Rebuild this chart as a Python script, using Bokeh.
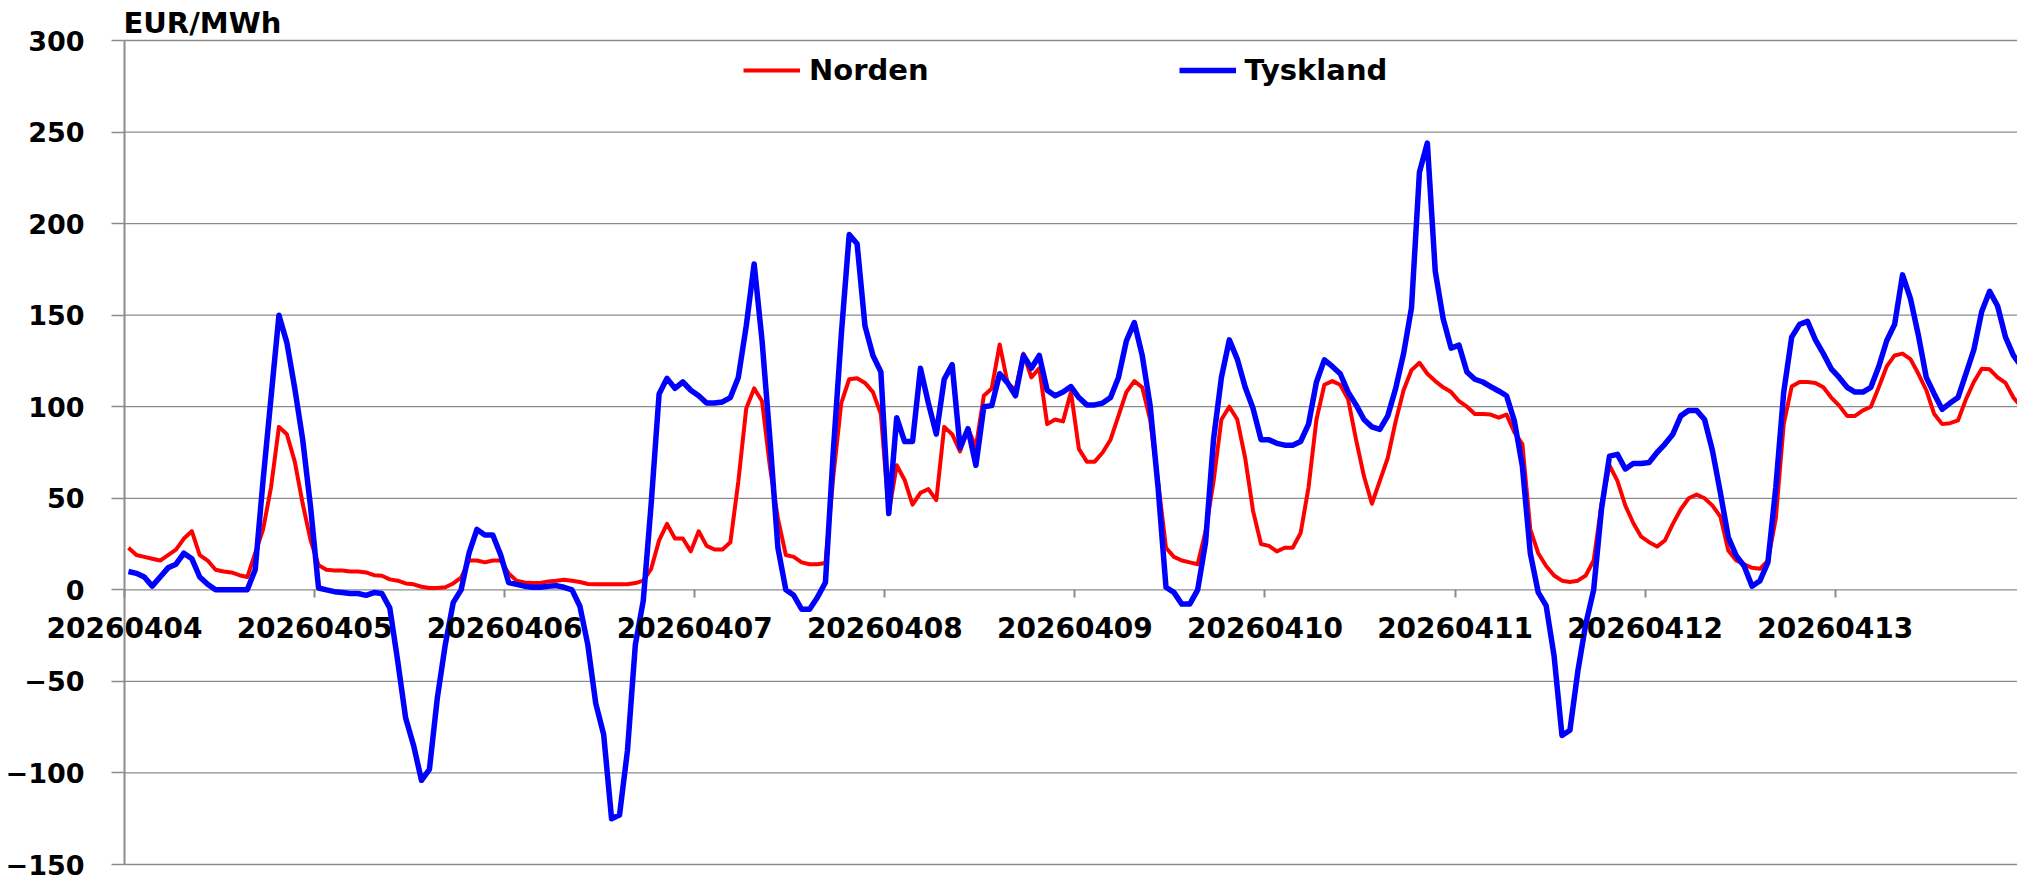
from bokeh.plotting import figure
from bokeh.models import FixedTicker, Range1d, Legend, LegendItem, ColumnDataSource, Label
from bokeh.embed import file_html
from bokeh.resources import INLINE

# ---- data (hourly prices, EUR/MWh) ----
dates = ["20260404", "20260405", "20260406", "20260407", "20260408",
         "20260409", "20260410", "20260411", "20260412", "20260413"]
hours_per_day = 24

norden_0404 = [23, 19, 18, 17, 16, 19, 22, 28, 32, 19, 16, 11, 10, 9.5, 8, 7, 20, 33, 56, 89, 85, 70, 47, 27]
norden_0405 = [13.5, 11, 10.6, 10.6, 10, 10, 9.5, 8, 7.7, 5.7, 5, 3.5, 3, 1.7, 1, 1, 1.4, 3.5, 6.6, 16, 16, 15, 16, 16]
norden_0406 = [9, 5, 4, 3.7, 3.7, 4.6, 5, 5.5, 5, 4.3, 3.2, 3, 3, 3, 3, 3, 3.7, 5, 11.5, 27, 36, 28, 28, 21]
norden_0407 = [32, 24, 22, 22, 26, 59, 99, 110, 103, 67, 39, 19, 18, 15, 14, 14, 14.6, 62, 102, 115, 115.5, 113, 108, 96]
norden_0408 = [42, 68, 60, 46.5, 53, 55, 49, 89, 85, 75.6, 88, 78, 106, 110, 134, 113, 109, 129, 116, 121, 90.5, 93, 92, 108]
norden_0409 = [77, 70, 70, 75, 82, 95, 108, 114, 110.6, 93, 59, 23, 18, 16, 15, 14, 32, 59, 93, 100, 93, 72, 43, 25]
norden_0410 = [24, 21, 23, 23, 31, 56, 93, 112, 114, 112, 104, 82, 62, 47, 59.5, 72, 92, 109, 120, 124, 118, 114, 110.6, 108]
norden_0411 = [103, 100, 96, 96, 95.7, 94, 95.7, 86, 79.6, 33, 20, 13, 7.8, 5, 4.3, 5, 7.8, 16, 47, 68, 59.5, 46, 36.5, 29]
norden_0412 = [26, 23.6, 27, 36, 44, 50, 52, 50, 46, 40, 21.5, 16, 14, 12, 11.5, 16, 39, 90.5, 111, 113.5, 113.5, 113, 110.6, 105]
norden_0413 = [100.6, 95, 95, 98, 100, 110.6, 122, 128, 129, 126, 118, 109, 96, 90.5, 91, 92.5, 104, 113.5, 120.7, 120.4, 116, 113, 105, 100]

tyskland_0404 = [10, 9, 7, 2, 7, 12, 14, 20, 17, 7, 3, 0, 0, 0, 0, 0, 11, 60, 105, 150, 135, 110, 82, 45]
tyskland_0405 = [1, 0, -1, -1.5, -2, -2, -3, -1.5, -2, -10, -39, -70, -85, -104, -98, -59, -30, -7, 0, 20, 33, 30, 30, 19]
tyskland_0406 = [4, 3, 2, 1.4, 1.4, 2, 2.3, 1.4, 0, -9, -30, -62, -79, -125, -123, -88, -30, -6, 47, 107, 115.5, 110, 113.5, 109]
tyskland_0407 = [106, 102, 102, 102.6, 105, 116, 144, 178, 136, 82, 23, 0, -3, -10.6, -10.6, -4, 4, 76, 139, 194, 189, 144, 128, 119]
tyskland_0408 = [41.7, 94, 81, 81, 121, 102, 85, 115, 123, 77.6, 88, 68, 100, 100.6, 118, 113, 106, 128, 121, 128, 109, 106, 108, 111]
tyskland_0409 = [105, 101, 101, 102, 105, 116, 136, 146, 128, 100.6, 56, 1.4, -1.4, -7.8, -7.8, 0, 26, 82, 116, 136.5, 126, 110.6, 99, 82]
tyskland_0410 = [82, 80, 79, 79, 81, 90.5, 113.5, 125.6, 122, 118, 108, 101, 93, 89, 87.6, 95, 110, 129, 154, 228, 244, 174, 148, 132]
tyskland_0411 = [133.6, 119, 115, 113.5, 111, 108.6, 106, 92, 67.5, 20, -1.4, -8.6, -36, -79.6, -76.7, -44.5, -18.7, 0, 44.5, 73, 74, 66, 69, 69]
tyskland_0412 = [69.5, 75, 79.6, 85, 95, 98, 98, 93, 76, 53, 28.7, 18.7, 13, 2, 5, 15, 56, 108, 138, 145, 146.6, 136.5, 129, 120.7]
tyskland_0413 = [116, 110.6, 108, 108, 110.6, 122, 136, 145, 172, 159, 139, 116, 107, 98.6, 102, 105, 118, 131, 152, 163, 155, 138, 128, 122]

y_ticks = [-150, -100, -50, 0, 50, 100, 150, 200, 250, 300]
unit_label = "EUR/MWh"
series_names = ["Norden", "Tyskland"]

# ---- build table ----
norden = (norden_0404 + norden_0405 + norden_0406 + norden_0407 + norden_0408 +
          norden_0409 + norden_0410 + norden_0411 + norden_0412 + norden_0413)
tyskland = (tyskland_0404 + tyskland_0405 + tyskland_0406 + tyskland_0407 + tyskland_0408 +
            tyskland_0409 + tyskland_0410 + tyskland_0411 + tyskland_0412 + tyskland_0413)
xpos = [i + 0.5 for i in range(len(norden))]
src = ColumnDataSource(dict(x=xpos, norden=norden, tyskland=tyskland))

FONT = "DejaVu Sans"
GRID = "#8c8c8c"

# canvas geometry (the frame fills the whole canvas)
W, H = 2017, 881
AXIS_PX = 124            # x = 0 position from the left
PX_PER_HOUR = 7.92
TOP_PX, BOTTOM_PX = 40, 864   # screen rows of 300 and -150
x_start = -AXIS_PX / PX_PER_HOUR
x_end = (W - AXIS_PX) / PX_PER_HOUR
ppu = (BOTTOM_PX - TOP_PX) / (y_ticks[-1] - y_ticks[0])
y_hi = y_ticks[-1] + TOP_PX / ppu
y_lo = y_ticks[0] - (H - BOTTOM_PX) / ppu

p = figure(width=W, height=H, output_backend="svg", toolbar_location=None,
           x_range=Range1d(x_start, x_end), y_range=Range1d(y_lo, y_hi),
           min_border_left=0, min_border_right=0, min_border_top=0, min_border_bottom=0)
p.outline_line_color = None
p.background_fill_color = "white"
p.border_fill_color = "white"

# horizontal gridlines from the tick values
p.xgrid.grid_line_color = None
p.ygrid.grid_line_color = None
p.segment(x0=[0] * len(y_ticks), y0=y_ticks, x1=[x_end] * len(y_ticks), y1=y_ticks,
          line_color=GRID, line_width=1.3)

# y axis at x = 0
p.yaxis.fixed_location = 0
p.yaxis.bounds = (y_ticks[0], y_ticks[-1])
p.yaxis.ticker = FixedTicker(ticks=y_ticks)
p.yaxis.major_label_text_font = FONT
p.yaxis.major_label_text_font_style = "bold"
p.yaxis.major_label_text_font_size = "27px"
p.yaxis.major_label_text_color = "black"
p.yaxis.axis_line_color = GRID
p.yaxis.axis_line_width = 2
p.yaxis.major_tick_line_color = GRID
p.yaxis.major_tick_line_width = 1.3
p.yaxis.major_tick_out = 13
p.yaxis.major_tick_in = 0
p.yaxis.minor_tick_line_color = None
p.yaxis.major_label_standoff = 27

# x axis at y = 0
day_ticks = [i * hours_per_day for i in range(len(dates))]
p.xaxis.fixed_location = 0
p.xaxis.ticker = FixedTicker(ticks=day_ticks)
p.xaxis.major_label_overrides = {t: d for t, d in zip(day_ticks, dates)}
p.xaxis.major_label_text_font = FONT
p.xaxis.major_label_text_font_style = "bold"
p.xaxis.major_label_text_font_size = "28px"
p.xaxis.major_label_text_color = "black"
p.xaxis.axis_line_color = None
p.xaxis.major_tick_line_color = GRID
p.xaxis.major_tick_line_width = 2
p.xaxis.major_tick_out = 8
p.xaxis.major_tick_in = 0
p.xaxis.minor_tick_line_color = None
p.xaxis.major_label_standoff = 19

# unit label above the y axis
p.add_layout(Label(x=0, y=y_ticks[-1] + 18 / ppu, x_offset=-1, y_offset=0, text=unit_label,
                   text_font=FONT, text_font_style="bold", text_font_size="29px",
                   text_color="black", text_baseline="alphabetic", text_align="left"))

r1 = p.line("x", "norden", source=src, line_color="#ff0000", line_width=4, line_join="round")
r2 = p.line("x", "tyskland", source=src, line_color="#0000ff", line_width=5.5, line_join="round")

legend = Legend(items=[LegendItem(label=series_names[0], renderers=[r1]),
                       LegendItem(label=series_names[1], renderers=[r2])],
                orientation="horizontal", location=(743, H - 87),
                label_text_font=FONT, label_text_font_style="bold", label_text_font_size="29px",
                label_text_color="black",
                glyph_width=57, glyph_height=30, label_height=30, label_standoff=9,
                spacing=250, padding=0, margin=0,
                border_line_alpha=0, background_fill_alpha=0)
p.add_layout(legend, "center")

open("out.html", "w").write(file_html(p, INLINE))
